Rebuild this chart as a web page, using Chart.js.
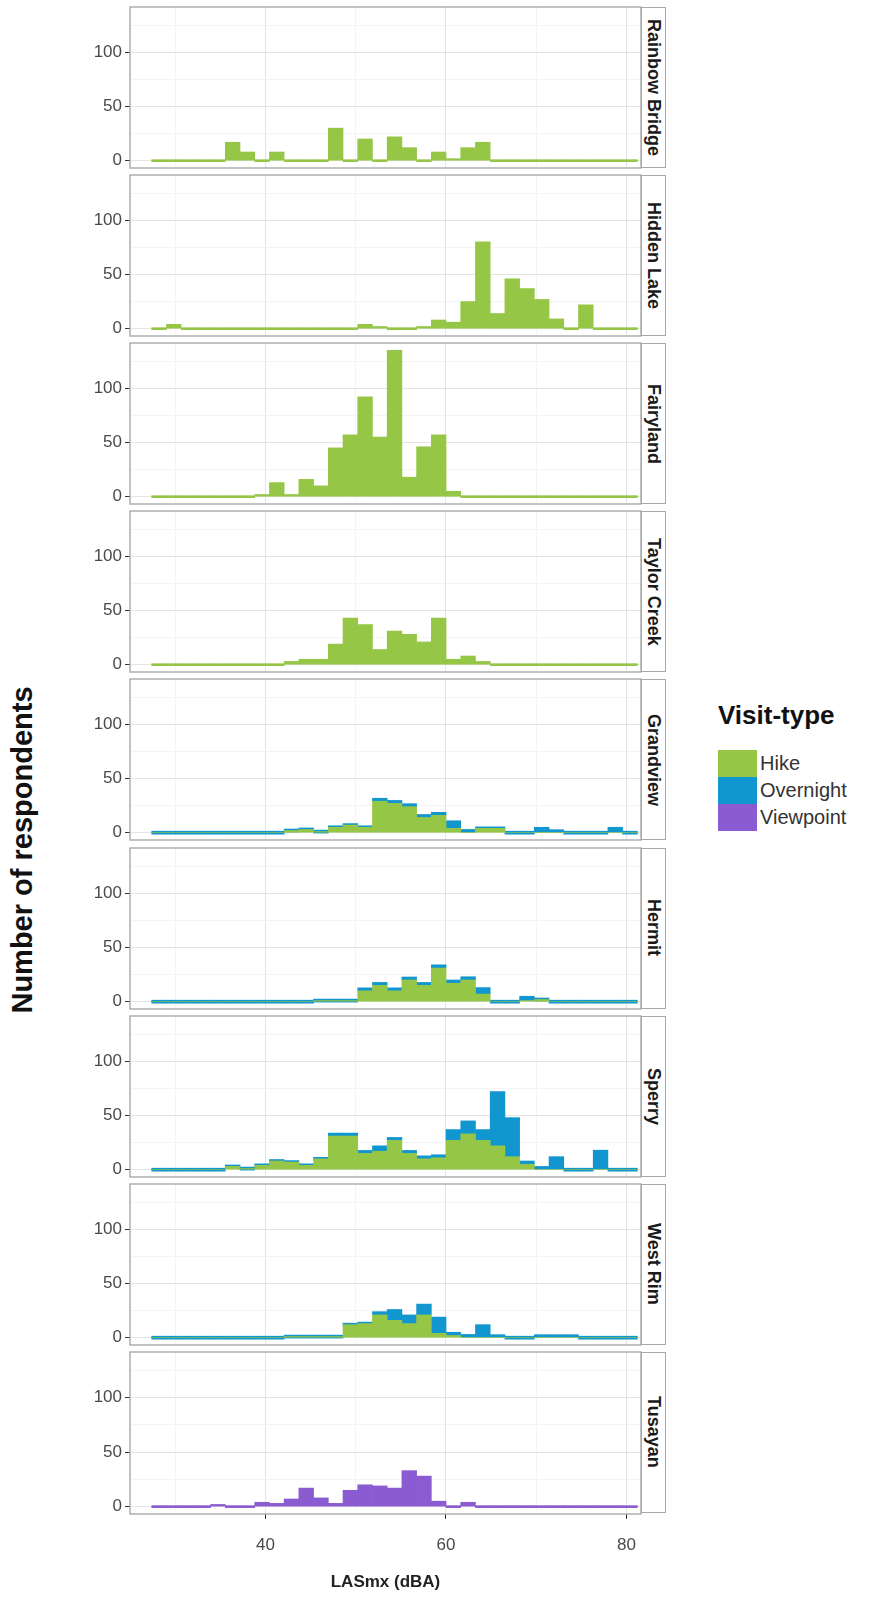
<!DOCTYPE html>
<html>
<head>
<meta charset="utf-8">
<script src="https://cdn.jsdelivr.net/npm/chart.js@4.4.1/dist/chart.umd.min.js"></script>
<style>
  html,body{margin:0;padding:0;background:#fff;}
  body{width:870px;height:1600px;position:relative;overflow:hidden;font-family:"Liberation Sans",Arial,Helvetica,sans-serif;}
  canvas.panel{position:absolute;left:0;}
  .strip{position:absolute;box-sizing:border-box;border:1px solid #a8a8a8;background:#fff;display:flex;align-items:center;justify-content:center;}
  .strip span{writing-mode:vertical-rl;font-weight:bold;font-size:18px;color:#1a1a1a;white-space:nowrap;}
  #ytitle{position:absolute;left:22px;top:850px;transform:translate(-50%,-50%) rotate(-90deg);font-weight:bold;font-size:29px;color:#111;white-space:nowrap;}
  #legend{position:absolute;left:718px;top:700px;}
  #legend .ttl{font-weight:bold;font-size:26px;line-height:30px;color:#111;margin-bottom:20px;}
  #legend .row{display:flex;align-items:center;height:27px;}
  #legend .key{width:39px;height:27px;margin-right:3px;}
  #legend .lab{font-size:20px;color:#333;}
</style>
</head>
<body>
<div id="ytitle">Number of respondents</div>
<div id="legend"></div>
<script>
// ---------------- data ----------------
const siteNames = ["Rainbow Bridge","Hidden Lake","Fairyland","Taylor Creek","Grandview","Hermit","Sperry","West Rim","Tusayan"];
const visitTypes = ["Hike","Overnight","Viewpoint"];
// histogram bin centres (dBA), 33 bins of width 1.63 from 27.4 to 81.2
const binCenters = [28.22,29.85,31.48,33.11,34.74,36.37,38.00,39.63,41.26,42.89,44.52,46.15,47.78,49.41,51.04,52.67,54.30,55.93,57.56,59.19,60.82,62.45,64.08,65.71,67.34,68.97,70.60,72.23,73.86,75.49,77.12,78.75,80.38];
const xTickValues = [30,40,50,60,70,80];
const xTickLabels = ["","40","","60","","80"];
const yTickValues = [0,25,50,75,100,125];
const yTickLabels = ["0","","50","","100",""];

const hikeRainbowBridge = [0,0,0,0,0,17,8,0,8,0,0,0,30,0,20,0,22,12,0,8,1,12,17,0,0,0,0,0,0,0,0,0,0];
const hikeHiddenLake    = [0,4,0,0,0,0,0,0,0,0,0,0,0,0,4,2,0,0,2,8,6,25,80,14,46,37,27,9,0,22,0,0,0];
const hikeFairyland     = [0,0,0,0,0,0,0,2,13,2,16,10,45,57,92,55,135,18,46,57,5,0,0,0,0,0,0,0,0,0,0,0,0];
const hikeTaylorCreek   = [0,0,0,0,0,0,0,0,0,3,5,5,19,43,37,14,31,28,21,43,5,8,3,0,0,0,0,0,0,0,0,0,0];
const hikeGrandview     = [0,0,0,0,0,0,0,0,0,2,3,1,5,7,5,29,27,24,14,16,4,0,4,4,0,0,0,0,0,0,0,0,0];
const overGrandview     = [0,0,0,0,0,0,0,0,0,0,0,0,0,0,0,1,2,2,1,2,7,3,0,0,0,0,5,1,0,0,0,5,0];
const hikeHermit        = [0,0,0,0,0,0,0,0,0,0,0,1,1,1,10,15,10,20,15,31,17,20,7,0,0,1,2,0,0,0,0,0,0];
const overHermit        = [0,0,0,0,0,0,0,0,0,0,0,0,0,0,1,1,1,1,1,3,3,3,6,0,0,4,0,0,0,0,0,0,0];
const hikeSperry        = [0,0,0,0,0,3,1,4,8,7,4,10,31,31,15,17,27,15,10,11,27,33,27,22,12,5,0,0,0,0,0,0,0];
const overSperry        = [0,0,0,0,0,0,0,0,0,0,0,0,1,1,1,5,1,1,1,1,10,12,10,50,36,3,3,12,0,0,18,0,0];
const hikeWestRim       = [0,0,0,0,0,0,0,0,0,1,1,1,1,12,13,21,16,13,21,4,2,0,0,0,0,0,0,0,0,0,0,0,0];
const overWestRim       = [0,0,0,0,0,0,0,0,0,0,0,0,0,0,0,3,10,8,10,15,3,3,12,1,0,0,1,2,1,0,0,0,0];
const viewTusayan       = [0,0,0,0,2,0,0,4,3,7,17,8,3,15,20,19,17,33,28,5,0,4,0,0,0,0,0,0,0,0,0,0,0];

const panelSeries = [
  [["Hike", hikeRainbowBridge]],
  [["Hike", hikeHiddenLake]],
  [["Hike", hikeFairyland]],
  [["Hike", hikeTaylorCreek]],
  [["Hike", hikeGrandview], ["Overnight", overGrandview]],
  [["Hike", hikeHermit], ["Overnight", overHermit]],
  [["Hike", hikeSperry], ["Overnight", overSperry]],
  [["Hike", hikeWestRim], ["Overnight", overWestRim]],
  [["Viewpoint", viewTusayan]]
];

// ---------------- style / layout ----------------
const COLORS = {Hike:"#96c646", Overnight:"#1196cf", Viewpoint:"#8a5bd1"};
const PANEL_LEFT = 130, PANEL_RIGHT = 641, STRIP_W = 25;
const PANEL_TOP0 = 7, PANEL_STEP = 168.1, PANEL_H = 161, XAXIS_H = 87;
const X_MIN = 25.0, X_MAX = 81.6, Y_MIN = -6.75, Y_MAX = 141.75;
const FONT = '"Liberation Sans", Arial, Helvetica, sans-serif';

const framePlugin = {
  id: 'frame',
  afterDraw(chart) {
    const {ctx, chartArea: a} = chart;
    ctx.save();
    ctx.strokeStyle = '#a3a3a3';
    ctx.lineWidth = 1.3;
    ctx.strokeRect(a.left, a.top, a.right - a.left, a.bottom - a.top);
    ctx.restore();
  }
};

function zeroPad(s) { s.paddingTop = 0; s.paddingBottom = 0; s.paddingLeft = 0; s.paddingRight = 0; }

function buildPanel(i) {
  const isLast = i === siteNames.length - 1;
  const top = PANEL_TOP0 + i * PANEL_STEP;
  const cv = document.createElement('canvas');
  cv.className = 'panel';
  const h = PANEL_H + 2 + (isLast ? XAXIS_H : 0);
  cv.width = PANEL_RIGHT + 2;
  cv.height = h;
  cv.style.top = (top - 1) + 'px';
  cv.style.width = cv.width + 'px';
  cv.style.height = h + 'px';
  document.body.appendChild(cv);

  const series = panelSeries[i];
  const mixed = series.length > 1;
  const datasets = series.map(([type, arr]) => ({
    type: 'bar',
    label: type,
    data: binCenters.map((x, k) => ({x: x, y: arr[k]})),
    backgroundColor: COLORS[type],
    borderWidth: 0,
    barPercentage: 1,
    categoryPercentage: 1,
    stack: 's',
    minBarLength: (mixed && type === 'Hike') ? 0 : (mixed ? 3 : 2)
  }));

  new Chart(cv, {
    type: 'bar',
    data: {datasets},
    plugins: [framePlugin],
    options: {
      responsive: false,
      animation: false,
      events: [],
      layout: {padding: {left: 0, right: 2, top: 1, bottom: isLast ? 0 : 1}},
      plugins: {legend: {display: false}, tooltip: {enabled: false}},
      scales: {
        x: {
          type: 'linear', min: X_MIN, max: X_MAX, stacked: true, offset: false,
          afterBuildTicks: s => { s.ticks = xTickValues.map(v => ({value: v})); },
          afterFit: s => { s.height = isLast ? XAXIS_H : 0; zeroPad(s); },
          border: {display: false},
          grid: {
            offset: false,
            color: c => (c.tick && c.tick.value % 20 === 0) ? '#e4e4e4' : '#f4f4f4',
            lineWidth: 1,
            drawTicks: isLast,
            tickLength: 5,
            tickColor: c => (c.tick && c.tick.value % 20 === 0) ? '#333' : 'rgba(0,0,0,0)'
          },
          ticks: {
            display: isLast,
            autoSkip: false,
            maxRotation: 0,
            padding: 16,
            color: '#4a4a4a',
            font: {family: FONT, size: 17},
            callback: v => { const k = xTickValues.indexOf(v); return k >= 0 ? xTickLabels[k] : ''; }
          },
          title: {
            display: isLast, text: 'LASmx (dBA)', color: '#222',
            font: {family: FONT, size: 17, weight: 'bold'},
            padding: {top: 0, bottom: 8}
          }
        },
        y: {
          type: 'linear', min: Y_MIN, max: Y_MAX, stacked: true,
          afterBuildTicks: s => { s.ticks = yTickValues.map(v => ({value: v})); },
          afterFit: s => { s.width = PANEL_LEFT; zeroPad(s); },
          border: {display: false},
          grid: {
            color: c => (c.tick && c.tick.value % 50 === 0) ? '#e4e4e4' : '#f4f4f4',
            lineWidth: 1,
            drawTicks: true,
            tickLength: 5,
            tickColor: c => (c.tick && c.tick.value % 50 === 0) ? '#333' : 'rgba(0,0,0,0)'
          },
          ticks: {
            autoSkip: false,
            padding: 3,
            color: '#4a4a4a',
            font: {family: FONT, size: 17},
            callback: v => { const k = yTickValues.indexOf(v); return k >= 0 ? yTickLabels[k] : ''; }
          }
        }
      }
    }
  });

  const st = document.createElement('div');
  st.className = 'strip';
  st.style.left = PANEL_RIGHT + 'px';
  st.style.top = top + 'px';
  st.style.width = STRIP_W + 'px';
  st.style.height = PANEL_H + 'px';
  const sp = document.createElement('span');
  sp.textContent = siteNames[i];
  st.appendChild(sp);
  document.body.appendChild(st);
}

siteNames.forEach((_, i) => buildPanel(i));

// legend
const lg = document.getElementById('legend');
const t = document.createElement('div'); t.className = 'ttl'; t.textContent = 'Visit-type'; lg.appendChild(t);
visitTypes.forEach(v => {
  const r = document.createElement('div'); r.className = 'row';
  const k = document.createElement('div'); k.className = 'key'; k.style.background = COLORS[v];
  const l = document.createElement('div'); l.className = 'lab'; l.textContent = v;
  r.appendChild(k); r.appendChild(l); lg.appendChild(r);
});
</script>
</body>
</html>
